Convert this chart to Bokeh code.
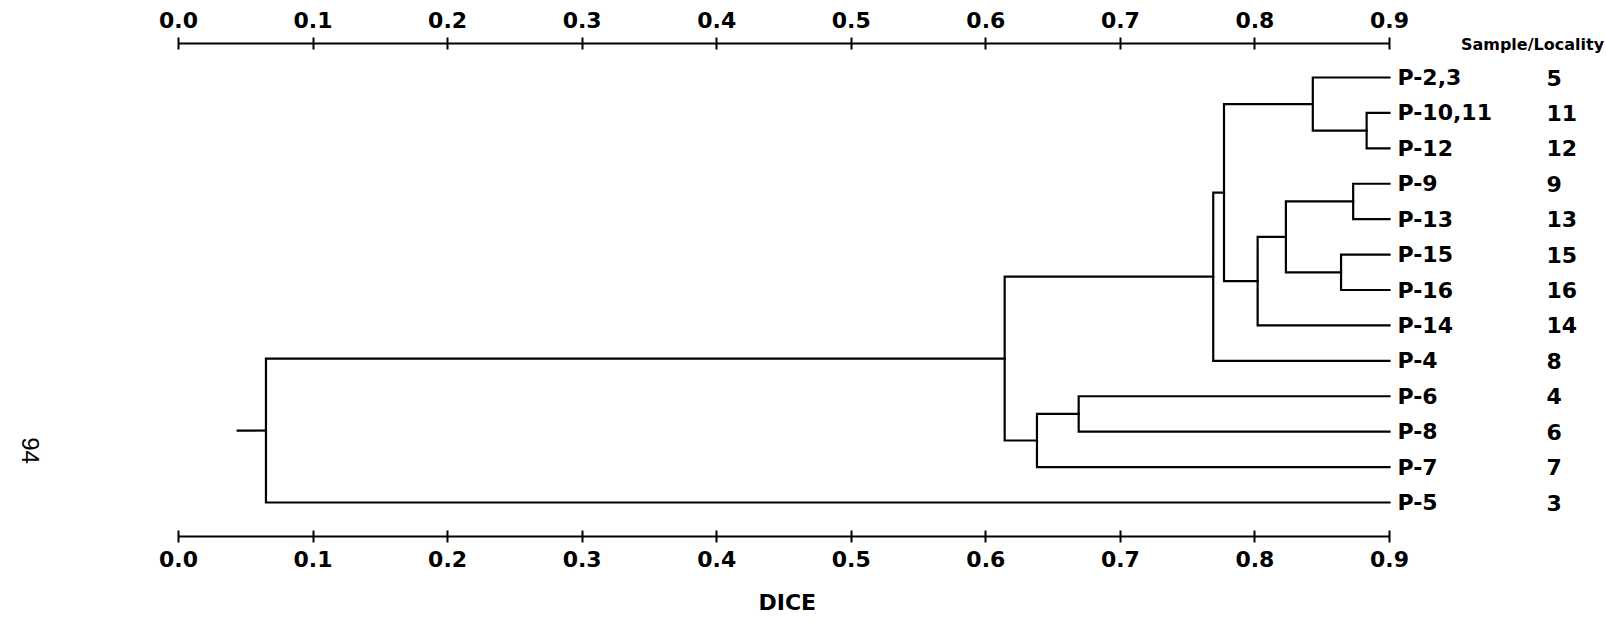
import math
from bokeh.plotting import figure
from bokeh.models import Range1d, LinearAxis, FixedTicker, ColumnDataSource, Label, Title, Grid
from bokeh.core.properties import value
from bokeh.embed import file_html
from bokeh.resources import INLINE

# ---------------- data ----------------
samples = ["P-2,3", "P-10,11", "P-12", "P-9", "P-13", "P-15", "P-16",
           "P-14", "P-4", "P-6", "P-8", "P-7", "P-5"]
localities = ["5", "11", "12", "9", "13", "15", "16", "14", "8", "4", "6", "7", "3"]

# agglomeration steps: leaves are 0..12, each merge k creates node 13+k
merge_a = [1, 0, 3, 5, 15, 17, 14, 19, 9, 21, 20, 23]
merge_b = [2, 13, 4, 6, 16, 7, 18, 8, 10, 11, 22, 12]
merge_dice = [0.883, 0.843, 0.873, 0.864, 0.823, 0.802, 0.777, 0.769,
              0.669, 0.638, 0.614, 0.065]
root_stub_dice = 0.044
leaf_dice = 0.9

dice_ticks = [0.0, 0.1, 0.2, 0.3, 0.4, 0.5, 0.6, 0.7, 0.8, 0.9]
tick_labels = ["0.0", "0.1", "0.2", "0.3", "0.4", "0.5", "0.6", "0.7", "0.8", "0.9"]

x_title = "DICE"
right_header = "Sample/Locality"
page_number = "94"

# ---------------- layout ----------------
W, H = 1606, 620
px_x0, px_x09 = 178.0, 1389.0          # screen positions of 0.0 and 0.9
x_per = (px_x09 - px_x0) / 0.9
frame_right = 1532.0
frame_top, frame_bottom = 43.0, 536.0
px_leaf0, px_leaf12 = 77.0, 502.0
y_per = (px_leaf12 - px_leaf0) / 12.0

def xd(px):
    return (px - px_x0) / x_per

def yd(py):
    return (py - px_leaf0) / y_per

x_range = Range1d(xd(0), xd(frame_right))
y_range = Range1d(yd(frame_bottom), yd(frame_top))

p = figure(width=W, height=H, x_range=x_range, y_range=y_range,
           output_backend="svg", toolbar_location=None,
           x_axis_location=None, y_axis_location=None,
           min_border_left=0, min_border_right=int(W - frame_right),
           min_border_top=int(frame_top), min_border_bottom=int(H - frame_bottom))
p.outline_line_color = None
p.background_fill_color = "white"
p.border_fill_color = "white"
for r in list(p.center):
    if isinstance(r, Grid):
        r.visible = False

# ---------------- dendrogram ----------------
n = len(samples)
node_x = {i: leaf_dice for i in range(n)}
node_y = {i: float(i) for i in range(n)}
xs, ys = [], []
for k, (a, b, d) in enumerate(zip(merge_a, merge_b, merge_dice)):
    xs.append([node_x[a], d, d, node_x[b]])
    ys.append([node_y[a], node_y[a], node_y[b], node_y[b]])
    node_x[n + k] = d
    node_y[n + k] = (node_y[a] + node_y[b]) / 2.0
root = n + len(merge_a) - 1
xs.append([root_stub_dice, node_x[root]])
ys.append([node_y[root], node_y[root]])

p.multi_line(xs=xs, ys=ys, line_color="black", line_width=2.2,
             line_join="miter", line_cap="square")

# ---------------- leaf labels ----------------
src = ColumnDataSource(dict(x=[leaf_dice] * n, y=list(range(n)), name=samples))
p.text(x="x", y="y", text="name", source=src, x_offset=8,
       text_font=value("DejaVu Sans"), text_font_style="bold",
       text_font_size="22px", text_align="left", text_baseline="middle",
       text_color="black")

# locality numbers: a right-hand axis whose tick labels are the localities
loc_axis = LinearAxis(ticker=FixedTicker(ticks=list(range(n))))
loc_axis.major_label_overrides = {i: s for i, s in enumerate(localities)}
loc_axis.axis_line_color = None
loc_axis.major_tick_line_color = None
loc_axis.minor_tick_line_color = None
loc_axis.major_tick_in = 0
loc_axis.major_tick_out = 0
loc_axis.major_label_standoff = 14
loc_axis.major_label_text_font = "DejaVu Sans"
loc_axis.major_label_text_font_style = "bold"
loc_axis.major_label_text_font_size = "22px"
loc_axis.major_label_text_color = "black"
p.add_layout(loc_axis, "right")

# ---------------- DICE axes ----------------
overrides = {t: s for t, s in zip(dice_ticks, tick_labels)}
axes = {}
for loc, standoff in (("above", 10), ("below", 8)):
    ax = LinearAxis(ticker=FixedTicker(ticks=dice_ticks),
                    bounds=(dice_ticks[0], dice_ticks[-1]))
    ax.major_label_overrides = overrides
    ax.axis_line_color = "black"
    ax.axis_line_width = 2
    ax.major_tick_line_color = "black"
    ax.major_tick_line_width = 2
    ax.major_tick_in = 6
    ax.major_tick_out = 6
    ax.minor_tick_line_color = None
    ax.major_label_text_font = "DejaVu Sans"
    ax.major_label_text_font_style = "bold"
    ax.major_label_text_font_size = "22px"
    ax.major_label_text_color = "black"
    ax.major_label_standoff = standoff
    p.add_layout(ax, loc)
    axes[loc] = ax

# header at the right end of the upper axis line
top = axes["above"]
top.axis_label = right_header
top.axis_label_text_font = "DejaVu Sans"
top.axis_label_text_font_style = "bold"
top.axis_label_text_font_size = "16px"
top.axis_label_text_color = "black"
top.axis_label_standoff = -45
top.axis_label_align = "end"

# x title below the lower axis, centred under 0.45 (a blank spacer title sits between)
p.add_layout(Title(text=" ", standoff=14, text_font_size="2px"), "below")
p.add_layout(Title(text=x_title, align="left", offset=758, standoff=0,
                   text_font="DejaVu Sans", text_font_style="bold",
                   text_font_size="22px", text_color="black"), "below")

# ---------------- page number ----------------
p.add_layout(Label(x=xd(30), y=yd(450), text=page_number, angle=-math.pi / 2,
                   text_font="Liberation Sans", text_font_size="24px",
                   text_align="center", text_baseline="middle",
                   text_color="black"))

open("out.html", "w").write(file_html(p, INLINE))
